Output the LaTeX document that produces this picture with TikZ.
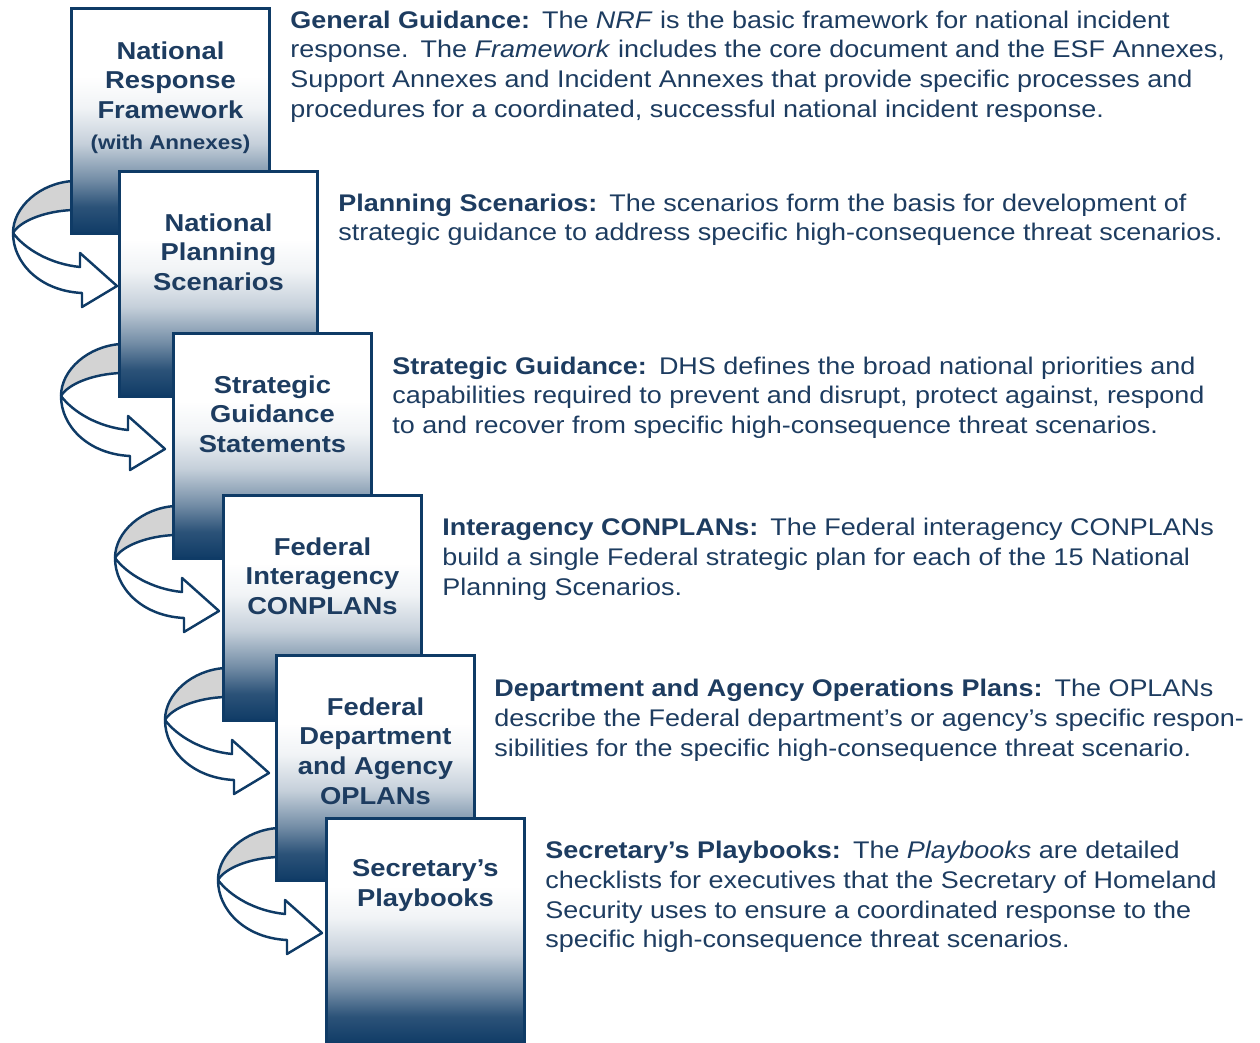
\documentclass[tikz,border=0pt]{standalone}
\usepackage{fontspec}
\setmainfont[FakeStretch=1.12]{Liberation Sans}
\usepackage{tikz}
\usetikzlibrary{positioning,backgrounds}
\usepackage{xcolor}
\definecolor{dhsnavy}{HTML}{0F3B66}
\definecolor{dhstext}{HTML}{1D3C60}
\definecolor{ribbongray}{HTML}{D3D3D3}
\pgfdeclareverticalshading{boxfade}{100bp}{color(0bp)=(dhsnavy); color(25bp)=(dhsnavy); color(31bp)=(dhsnavy!88!white); color(37bp)=(dhsnavy!58!white); color(45bp)=(dhsnavy!24!white); color(53bp)=(dhsnavy!6!white); color(60bp)=(white); color(100bp)=(white)}
\tikzstyle{planbox}=[draw=dhsnavy, line width=1.7pt, shading=boxfade, minimum width=3.96cm, minimum height=4.5cm, anchor=north west, inner sep=0pt]
\tikzstyle{boxlabel}=[anchor=north, align=center, inner sep=0pt, text=dhstext, font=\fontsize{13.9}{16.9}\selectfont\bfseries]
\tikzstyle{blurb}=[align=left, inner sep=0pt, text=dhstext, font=\fontsize{13.7}{16.9}\selectfont]
\tikzstyle{ribbon}=[draw=dhsnavy, line width=1.4pt, line join=round]
\newcommand{\turnArrow}[1]{
	\begin{scope}[shift={(#1)}]
		\fill[ribbongray] (3,174) .. controls (-30,176) and (-57,200) .. (-57,226) .. controls (-50,214) and (-25,204) .. (3,203) -- cycle;
		\draw[ribbon] (3,174) .. controls (-30,176) and (-57,200) .. (-57,226);
		\draw[ribbon] (-57,226) .. controls (-50,214) and (-25,204) .. (3,203);
		\filldraw[ribbon, fill=white] (-57,226) .. controls (-45,242) and (-20,257) .. (10,260) -- (10,246) -- (47,279) -- (12,300) -- (12,286) .. controls (-30,284) and (-57,256) .. (-57,226) -- cycle;
	\end{scope}
}

\begin{document}
\begin{tikzpicture}[x=0.02cm, y=-0.02cm]
	\useasboundingbox (0,0) rectangle (1260,1043);
	% stacked plan boxes
	\node[planbox] (nrf) at (70,7) {};
	\node[planbox] (nps) at (118,170) {};
	\node[planbox] (sgs) at (172,332) {};
	\node[planbox] (fic) at (222,494) {};
	\node[planbox] (fdo) at (275,654) {};
	\node[planbox] (spb) at (325,817) {};
	\node[boxlabel, below=0.68cm of nrf.north] (nrft) {National\\Response\\Framework\\[1pt]{\fontsize{11.4}{14}\selectfont(with Annexes)}};
	\node[boxlabel, below=0.86cm of nps.north] (npst) {National\\Planning\\Scenarios};
	\node[boxlabel, below=0.86cm of sgs.north] (sgst) {Strategic\\Guidance\\Statements};
	\node[boxlabel, below=0.86cm of fic.north] (fict) {Federal\\Interagency\\CONPLANs};
	\node[boxlabel, below=0.86cm of fdo.north] (fdot) {Federal\\Department\\and Agency\\OPLANs};
	\node[boxlabel, below=0.84cm of spb.north] (spbt) {Secretary’s\\Playbooks};
	% descriptions
	\node[blurb, below right=0.07cm and 0.38cm of nrf.north east] (nrfd) {\textbf{General Guidance:}\hspace{0.5em}The \textit{NRF} is the basic framework for national incident\\response.\hspace{0.5em}The \textit{Framework} includes the core document and the ESF Annexes,\\Support Annexes and Incident Annexes that provide specific processes and\\procedures for a coordinated, successful national incident response.};
	\node[blurb, below right=0.47cm and 0.38cm of nps.north east] (npsd) {\textbf{Planning Scenarios:}\hspace{0.5em}The scenarios form the basis for development of\\strategic guidance to address specific high-consequence threat scenarios.};
	\node[blurb, below right=0.49cm and 0.38cm of sgs.north east] (sgsd) {\textbf{Strategic Guidance:}\hspace{0.5em}DHS defines the broad national priorities and\\capabilities required to prevent and disrupt, protect against, respond\\to and recover from specific high-consequence threat scenarios.};
	\node[blurb, below right=0.48cm and 0.38cm of fic.north east] (ficd) {\textbf{Interagency CONPLANs:}\hspace{0.5em}The Federal interagency CONPLANs\\build a single Federal strategic plan for each of the 15 National\\Planning Scenarios.};
	\node[blurb, below right=0.5cm and 0.36cm of fdo.north east] (fdod) {\textbf{Department and Agency Operations Plans:}\hspace{0.5em}The OPLANs\\describe the Federal department’s or agency’s specific respon-\\sibilities for the specific high-consequence threat scenario.};
	\node[blurb, below right=0.48cm and 0.38cm of spb.north east] (spbd) {\textbf{Secretary’s Playbooks:}\hspace{0.5em}The \textit{Playbooks} are detailed\\checklists for executives that the Secretary of Homeland\\Security uses to ensure a coordinated response to the\\specific high-consequence threat scenarios.};
	% twisted arrows behind the boxes
	\begin{scope}[on background layer]
		\turnArrow{nrf.north west}
		\turnArrow{nps.north west}
		\turnArrow{sgs.north west}
		\turnArrow{fic.north west}
		\turnArrow{fdo.north west}
	\end{scope}
\end{tikzpicture}
\end{document}
